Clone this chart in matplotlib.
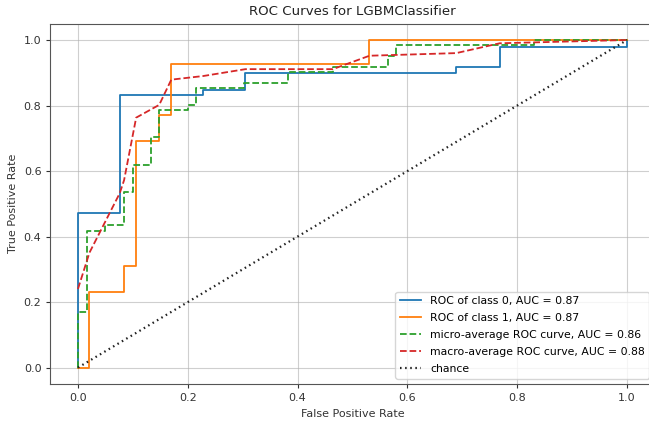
import numpy as np
import matplotlib
matplotlib.use("Agg")
import matplotlib.pyplot as plt

# ROC points
fpr_0 = [0, 0, 0.076, 0.076, 0.228, 0.228, 0.305, 0.305, 0.689, 0.689, 0.768, 0.768, 1.0, 1.0]
tpr_0 = [0, 0.471, 0.471, 0.833, 0.833, 0.848, 0.848, 0.899, 0.899, 0.919, 0.919, 0.98, 0.98, 1.0]

fpr_1 = [0, 0.021, 0.021, 0.084, 0.084, 0.106, 0.106, 0.148, 0.148, 0.170, 0.170, 0.530, 0.530, 1.0]
tpr_1 = [0, 0, 0.232, 0.232, 0.311, 0.311, 0.693, 0.693, 0.772, 0.772, 0.926, 0.926, 1.0, 1.0]

fpr_micro = [0, 0, 0.016, 0.016, 0.050, 0.050, 0.083, 0.083, 0.100, 0.100, 0.133, 0.133,
             0.148, 0.148, 0.200, 0.200, 0.215, 0.215, 0.302, 0.302, 0.383, 0.383,
             0.464, 0.464, 0.565, 0.565, 0.580, 0.580, 0.831, 0.831, 1.0]
tpr_micro = [0, 0.169, 0.169, 0.418, 0.418, 0.436, 0.436, 0.535, 0.535, 0.619, 0.619, 0.703,
             0.703, 0.787, 0.787, 0.802, 0.802, 0.853, 0.853, 0.868, 0.868, 0.902,
             0.902, 0.919, 0.919, 0.952, 0.952, 0.985, 0.985, 1.0, 1.0]

fpr_macro = [0, 0.021, 0.076, 0.084, 0.106, 0.148, 0.170, 0.228, 0.305, 0.464, 0.531, 0.689, 0.768, 1.0]
tpr_macro = [0.24, 0.351, 0.532, 0.572, 0.763, 0.802, 0.879, 0.89, 0.911, 0.911, 0.952, 0.96, 0.99, 1.0]

auc_0, auc_1, auc_micro, auc_macro = 0.87, 0.87, 0.86, 0.88

plt.rcParams['font.size'] = 8
plt.rcParams['lines.linewidth'] = 1.3

fig = plt.figure(figsize=(6.49, 4.21), dpi=100)
# the reference is cropped on the right, so the axes run past the figure edge
ax = fig.add_axes([0.0778, 0.0879, 0.9307, 0.856])

ax.plot(fpr_0, tpr_0, color='tab:blue', label='ROC of class 0, AUC = %.2f' % auc_0)
ax.plot(fpr_1, tpr_1, color='tab:orange', label='ROC of class 1, AUC = %.2f' % auc_1)
ax.plot(fpr_micro, tpr_micro, '--', color='tab:green',
        label='micro-average ROC curve, AUC = %.2f' % auc_micro)
ax.plot(fpr_macro, tpr_macro, '--', color='tab:red',
        label='macro-average ROC curve, AUC = %.2f' % auc_macro)
ax.plot([0, 1], [0, 1], ':', color='#222222', lw=1.6, dashes=(0.7, 1.6), label='chance')

ax.set_xlim(-0.05, 1.05)
ax.set_ylim(-0.05, 1.05)
ax.grid(True, color='#b0b0b0', alpha=0.6, linewidth=0.8)
for s in ax.spines.values():
    s.set_color('#555555')
ax.tick_params(colors='#333333', length=3)
ax.set_title('ROC Curves for LGBMClassifier', color='#222222')
ax.set_xlabel('False Positive Rate', color='#333333')
ax.set_ylabel('True Positive Rate', color='#333333')
ax.legend(loc='lower right', fontsize=7.8, labelspacing=0.65)

fig.savefig('out.png', dpi=100)
